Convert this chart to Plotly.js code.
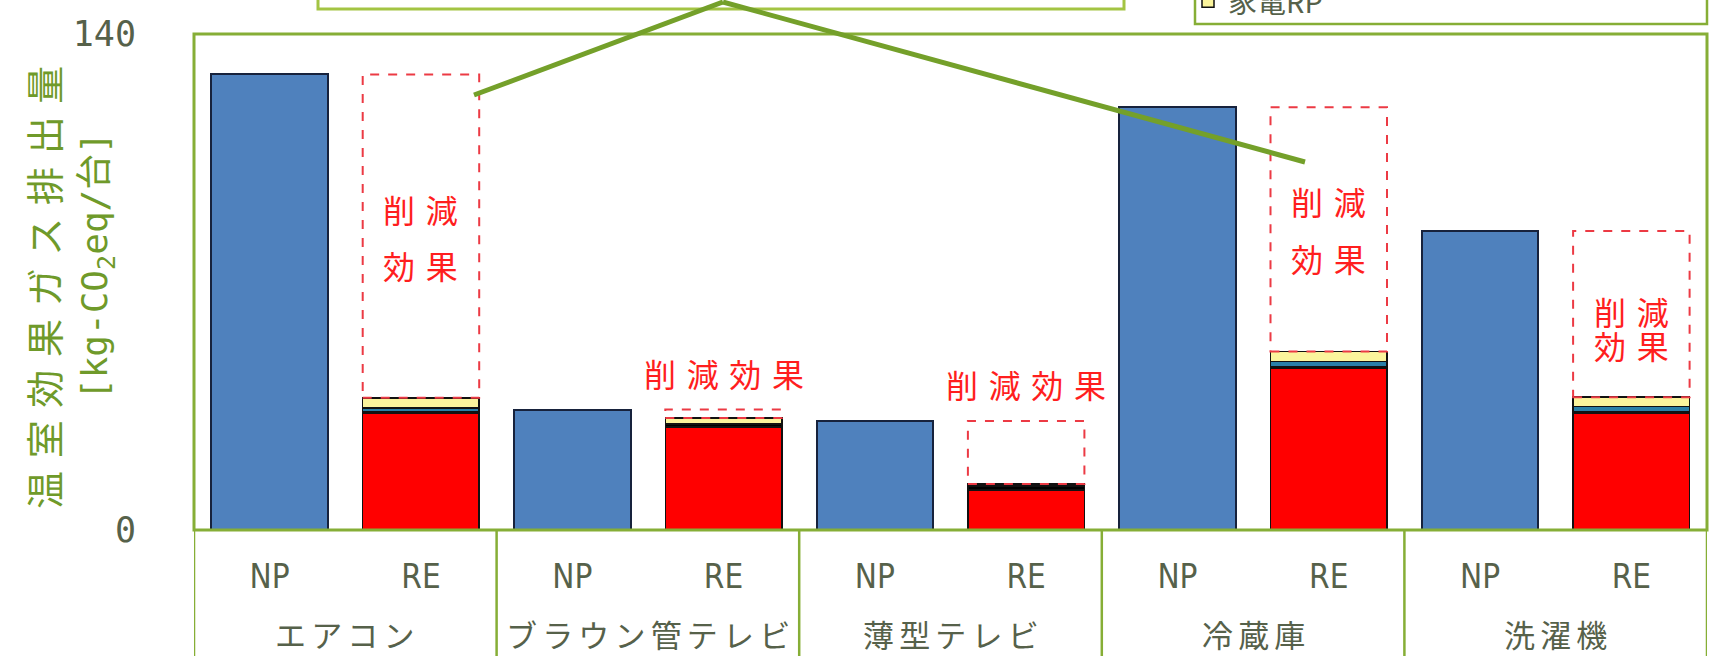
<!DOCTYPE html>
<html><head><meta charset="utf-8">
<script src="https://cdn.plot.ly/plotly-3.0.1.min.js"></script>
<style>html,body{margin:0;padding:0;background:#fff;overflow:hidden}#chart{width:1719px;height:656px;}</style>
</head><body><div id="chart"></div>
<script>
// ---- data ----
const categories = ['エアコン', 'ブラウン管テレビ', '薄型テレビ', '冷蔵庫', '洗濯機'];
const barLabels = ['NP', 'RE'];
const npValues = [128.6, 34.0, 30.8, 119.3, 84.4];
const reRed = [33.0, 29.1, 11.3, 45.7, 33.0];
const reBlack = [0.3, 0.8, 1.1, 0.5, 0.5];
const reTeal = [1.2, 0.2, 0.3, 1.4, 1.4];
const reYellow = [2.8, 1.5, 0.3, 2.8, 2.6];
const legendName = '家電RP';
const yTickVals = [0, 140];
const yTitleLine1 = '温室効果ガス排出量';
const yTitleLine2 = '[kg-CO<sub>2</sub>eq/台]';
const reductionText = '削減効果';

// ---- layout config ----
const W = 1719, H = 656;
const M = {l: 194, r: 12, t: 34, b: 126};
const plotW = W - M.l - M.r, plotH = H - M.t - M.b;
const BW = 0.77;
const green = '#86ae36', lineGreen = '#74a02a', txt = '#56614a', red = '#ff1e1e', titleGreen = '#6f9a2a';
const cjk = '"Noto Sans CJK JP", "Noto Sans CJK SC", sans-serif';
const narrow = '"Liberation Sans Narrow", "DejaVu Sans Condensed", "Noto Sans CJK JP", sans-serif';
const mono = '"DejaVu Sans Mono", "Noto Sans CJK JP", monospace';
const sp = (s, c) => Array.from(s).join(c);
const px2x = p => (p - M.l) / plotW;
const px2y = p => (H - M.b - p) / plotH;
// reduction label layout: [lines, y (data units)]
const reductionLayout = [
  [[reductionText.slice(0, 2), reductionText.slice(2)], [90.6, 74.8]],
  [[reductionText], [44.3]],
  [[reductionText], [41.2]],
  [[reductionText.slice(0, 2), reductionText.slice(2)], [92.9, 76.8]],
  [[reductionText.slice(0, 2), reductionText.slice(2)], [61.9, 52.3]]
];

const npX = categories.map((c, i) => 2 * i);
const reX = categories.map((c, i) => 2 * i + 1);
const edge = {color: '#111', width: 1.5};
const traces = [
  {type: 'bar', name: 'NP', x: npX, y: npValues, width: BW, marker: {color: '#4f81bd', line: {color: '#17223c', width: 2}}, showlegend: false},
  {type: 'bar', name: 'RE-1', x: reX, y: reRed, width: BW, marker: {color: '#ff0000', line: edge}, showlegend: false},
  {type: 'bar', name: 'RE-2', x: reX, y: reBlack, width: BW, marker: {color: '#000000', line: edge}, showlegend: false},
  {type: 'bar', name: 'RE-3', x: reX, y: reTeal, width: BW, marker: {color: '#2a80a8', line: edge}, showlegend: false},
  {type: 'bar', name: legendName, x: reX, y: reYellow, width: BW, marker: {color: '#fbf49c', line: edge}, showlegend: true}
];

const shapes = [];
const annotations = [];
// dashed reduction boxes, derived from data
categories.forEach((c, i) => {
  const total = reRed[i] + reBlack[i] + reTeal[i] + reYellow[i];
  shapes.push({type: 'rect', xref: 'x', yref: 'y', x0: reX[i] - BW / 2, x1: reX[i] + BW / 2, y0: total, y1: npValues[i],
    line: {color: '#ec3a44', width: 2, dash: 'dash'}, fillcolor: 'rgba(0,0,0,0)', layer: 'above'});
  const [lines, ys] = reductionLayout[i];
  lines.forEach((t, k) => annotations.push({xref: 'x', yref: 'y', x: reX[i], y: ys[k], text: sp(t, '\u2004'), showarrow: false,
    font: {family: cjk, size: 32, color: red}, xanchor: 'center', yanchor: 'middle'}));
  annotations.push({xref: 'x', yref: 'paper', x: 2 * i + 0.5, y: px2y(633), text: sp(c, '\u2006'), showarrow: false,
    font: {family: cjk, size: 31, color: txt}, xanchor: 'center', yanchor: 'middle'});
});
// y-axis title, two rotated lines
annotations.push({xref: 'paper', yref: 'paper', x: px2x(42), y: px2y(288), text: sp(yTitleLine1, '\u2004'), textangle: -90, showarrow: false,
  font: {family: cjk, size: 38, color: titleGreen}, xanchor: 'center', yanchor: 'middle'});
annotations.push({xref: 'paper', yref: 'paper', x: px2x(97), y: px2y(266), text: yTitleLine2, textangle: -90, showarrow: false,
  font: {family: mono, size: 36, color: titleGreen}, xanchor: 'center', yanchor: 'middle'});
// category separators below the plot
for (let k = 0; k <= categories.length; k++) {
  shapes.push({type: 'line', xref: 'x', yref: 'paper', x0: 2 * k - 0.5, x1: 2 * k - 0.5, y0: 0, y1: px2y(H + 20), line: {color: green, width: 2.5}, layer: 'above'});
}
// plot frame
shapes.push({type: 'rect', xref: 'paper', yref: 'paper', x0: 0, x1: 1, y0: 0, y1: 1, line: {color: green, width: 3}, layer: 'above'});
// callout box (cut by the top of the picture) and its pointer lines
shapes.push({type: 'rect', xref: 'paper', yref: 'paper', x0: px2x(318), x1: px2x(1124), y0: px2y(9), y1: px2y(-60), line: {color: '#a3c443', width: 3}, fillcolor: '#ffffff', layer: 'above'});
shapes.push({type: 'line', xref: 'paper', yref: 'paper', x0: px2x(723), y0: px2y(2), x1: px2x(474), y1: px2y(95), line: {color: lineGreen, width: 5}, layer: 'above'});
shapes.push({type: 'line', xref: 'paper', yref: 'paper', x0: px2x(723), y0: px2y(2), x1: px2x(1305), y1: px2y(162), line: {color: lineGreen, width: 5}, layer: 'above'});
// legend frame
shapes.push({type: 'rect', xref: 'paper', yref: 'paper', x0: px2x(1195), x1: px2x(1707), y0: px2y(24), y1: px2y(-80), line: {color: green, width: 2.5}, fillcolor: '#ffffff', layer: 'below'});

const layout = {
  width: W, height: H,
  margin: {l: M.l, r: M.r, t: M.t, b: M.b, autoexpand: false},
  paper_bgcolor: '#ffffff', plot_bgcolor: '#ffffff',
  barmode: 'stack',
  xaxis: {range: [-0.5, 2 * categories.length - 0.5], tickvals: npX.concat(reX),
    ticktext: npX.map(() => barLabels[0]).concat(reX.map(() => barLabels[1])),
    tickfont: {family: narrow, size: 33, color: txt}, ticks: '', ticklabelstandoff: 24,
    showgrid: false, zeroline: false, showline: false, fixedrange: true},
  yaxis: {range: [0, 140], tickvals: yTickVals, ticktext: yTickVals.map(String),
    tickfont: {family: '"DejaVu Sans Mono", monospace', size: 35, color: txt}, ticks: '', ticklabelstandoff: 57,
    showgrid: false, zeroline: false, showline: false, automargin: false},
  legend: {x: px2x(1188), y: px2y(27), xanchor: 'left', yanchor: 'bottom', bgcolor: 'rgba(0,0,0,0)', borderwidth: 0,
    font: {family: cjk, size: 29, color: txt}},
  shapes: shapes, annotations: annotations, showlegend: true
};
Plotly.newPlot('chart', traces, layout, {displayModeBar: false, staticPlot: true});
</script></body></html>
